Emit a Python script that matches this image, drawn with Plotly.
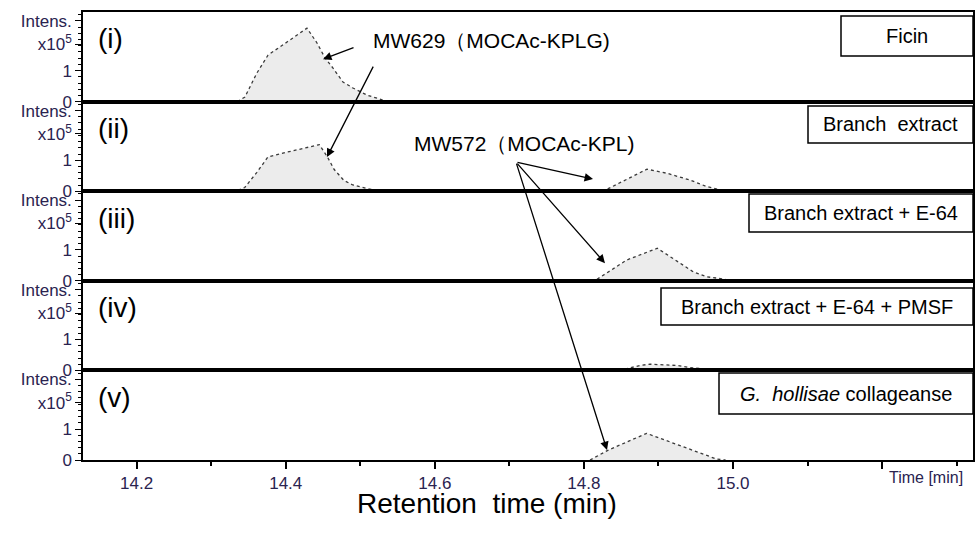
import plotly.graph_objects as go
from plotly.subplots import make_subplots

# ---------------- data ----------------
panel_labels = ["(i)", "(ii)", "(iii)", "(iv)", "(v)"]
sample_names = ["Ficin", "Branch  extract", "Branch extract + E-64",
                "Branch extract + E-64 + PMSF", "<i>G.  hollisae</i> collageanse"]

# retention time (min) / intensity (x10^5)
t_i = [14.335, 14.3453, 14.3610, 14.3762, 14.4017, 14.4285, 14.4419, 14.4527,
       14.4634, 14.4768, 14.4902, 14.5090, 14.5264, 14.535]
v_i = [0.0, 0.15, 0.91, 1.50, 1.92, 2.37, 1.89, 1.41, 1.08, 0.63, 0.44, 0.21, 0.08, 0.0]

t_ii = [14.336, 14.345, 14.361, 14.376, 14.400, 14.428, 14.445, 14.456, 14.465,
        14.478, 14.490, 14.510, 14.526, 14.548, 14.556, 14.570, 14.578,
        14.8283, 14.8846, 14.9111, 14.9423, 14.9647, 14.9781, 14.990]
v_ii = [0.03, 0.12, 0.60, 1.10, 1.25, 1.40, 1.50, 1.10, 0.70,
        0.35, 0.20, 0.08, 0.02, 0.0, 0.04, 0.04, 0.0,
        0.03, 0.71, 0.58, 0.36, 0.15, 0.07, 0.0]

t_iii = [14.8176, 14.8574, 14.8985, 14.9290, 14.9467, 14.9647, 14.9870, 14.995]
v_iii = [0.05, 0.67, 1.05, 0.56, 0.29, 0.13, 0.06, 0.0]

t_iv = [14.8551, 14.8753, 14.8887, 14.9245, 14.9423, 14.9669]
v_iv = [0.04, 0.16, 0.20, 0.16, 0.09, 0.04]

t_v = [14.8082, 14.8327, 14.8842, 14.9155, 14.9468, 14.9781, 14.990]
v_v = [0.0, 0.32, 0.86, 0.59, 0.32, 0.03, 0.0]

series = [(t_i, v_i), (t_ii, v_ii), (t_iii, v_iii), (t_iv, v_iv), (t_v, v_v)]

x_tick_vals = [14.2, 14.4, 14.6, 14.8, 15.0, 15.2]
x_tick_text = ["14.2", "14.4", "14.6", "14.8", "15.0", ""]
y_tick_vals = [0, 1, 1.85, 2.6]
y_tick_text = ["0", "1", "x10<sup>5</sup>", "Intens."]

# ---------------- layout geometry ----------------
W, H = 976, 533
L, R, T, B = 83, 3, 12, 73
PW, PH = W - L - R, H - T - B


def px(x):
    return (x - L) / PW


def py(y):
    return (H - B - y) / PH


FONT = "Liberation Sans, Arial, sans-serif"
TICKCOL = "#2a2350"

fig = make_subplots(rows=5, cols=1, shared_xaxes=True, vertical_spacing=0)

for k, (t, v) in enumerate(series):
    fig.add_trace(go.Scatter(x=t, y=v, mode="lines", fill="tozeroy",
                             fillcolor="#ececec",
                             line=dict(color="#3a3a3a", width=1.3, dash="dot"),
                             hoverinfo="skip", showlegend=False),
                  row=k + 1, col=1)

for k in range(5):
    last = (k == 4)
    fig.update_xaxes(row=k + 1, col=1, range=[14.128, 15.322], showline=True,
                     automargin=False,
                     linecolor="black", linewidth=2, mirror=True, showgrid=False,
                     zeroline=False,
                     ticks="outside" if last else "", ticklen=7, tickwidth=1.5,
                     tickcolor="black",
                     tickvals=x_tick_vals, ticktext=x_tick_text,
                     showticklabels=last,
                     tickfont=dict(family=FONT, size=17, color=TICKCOL),
                     minor=dict(dtick=0.1, tick0=14.2, ticklen=4, tickwidth=1.5,
                                ticks="outside" if last else "", tickcolor="black",
                                showgrid=False))
    fig.update_yaxes(row=k + 1, col=1, range=[0, 2.89], showline=True,
                     automargin=False,
                     linecolor="black", linewidth=1.5, mirror=True, showgrid=False,
                     zeroline=False, ticks="outside", ticklen=6, tickwidth=1.3,
                     tickcolor="black", tickvals=y_tick_vals, ticktext=y_tick_text,
                     tickfont=dict(family=FONT, size=17, color=TICKCOL),
                     minor=dict(dtick=0.2, ticklen=3, tickwidth=1, ticks="outside",
                                tickcolor="black", showgrid=False))

annotations = []
shapes = []

# panel labels
panel_tops = [T + PH / 5 * k for k in range(5)]
for k, lab in enumerate(panel_labels):
    annotations.append(dict(text=lab, xref="paper", yref="paper",
                            x=px(96), y=py(panel_tops[k] + 27), xanchor="left",
                            yanchor="middle", showarrow=False,
                            font=dict(family=FONT, size=28, color="black")))

# sample boxes (pixel rectangles)
boxes = [(841, 16, 973, 56), (808, 106, 973, 143), (749, 194, 973, 232),
         (661, 288, 973, 325), (719, 373, 973, 414)]
for (x0, y0, x1, y1), name in zip(boxes, sample_names):
    shapes.append(dict(type="rect", xref="paper", yref="paper",
                       x0=px(x0), x1=px(x1), y0=py(y1), y1=py(y0),
                       line=dict(color="black", width=1.5), fillcolor="white",
                       layer="above"))
    annotations.append(dict(text=name, xref="paper", yref="paper",
                            x=px((x0 + x1) / 2), y=py((y0 + y1) / 2),
                            xanchor="center", yanchor="middle", showarrow=False,
                            font=dict(family=FONT, size=20, color="black")))

# compound labels
annotations.append(dict(text="MW629（MOCAc-KPLG)", xref="paper", yref="paper",
                        x=px(371), y=py(40), xanchor="left", yanchor="middle",
                        showarrow=False, font=dict(family=FONT, size=21, color="black")))
annotations.append(dict(text="MW572（MOCAc-KPL)", xref="paper", yref="paper",
                        x=px(412), y=py(143), xanchor="left", yanchor="middle",
                        showarrow=False, font=dict(family=FONT, size=21, color="black")))

# arrows: (row, time, intensity, ax, ay)
arrows = [(1, 14.450, 1.37, 32, -12),
          (2, 14.4553, 1.10, 47, -92),
          (2, 14.8122, 0.39, -77, -17),
          (3, 14.8283, 0.57, -89, -101),
          (5, 14.831, 0.32, -91, -288)]
for row, xh, yh, ax, ay in arrows:
    sfx = "" if row == 1 else str(row)
    annotations.append(dict(text="", x=xh, y=yh, xref="x" + sfx, yref="y" + sfx,
                            showarrow=True, ax=ax, ay=ay, arrowhead=2,
                            arrowsize=1.3, arrowwidth=1.3, arrowcolor="black",
                            standoff=0))

# axis captions
annotations.append(dict(text="Time [min]", xref="paper", yref="paper",
                        x=px(887), y=py(477), xanchor="left", yanchor="middle",
                        showarrow=False, font=dict(family=FONT, size=16, color=TICKCOL)))
annotations.append(dict(text="Retention  time (min)", xref="paper", yref="paper",
                        x=px(487), y=py(503), xanchor="center", yanchor="middle",
                        showarrow=False, font=dict(family=FONT, size=28, color="black")))

fig.update_layout(width=W, height=H, margin=dict(l=L, r=R, t=T, b=B),
                  paper_bgcolor="white", plot_bgcolor="white",
                  annotations=annotations, shapes=shapes, showlegend=False,
                  font=dict(family=FONT))

fig.write_html("out.html", config={"displayModeBar": False},
               post_script="document.body.style.margin='0';")
